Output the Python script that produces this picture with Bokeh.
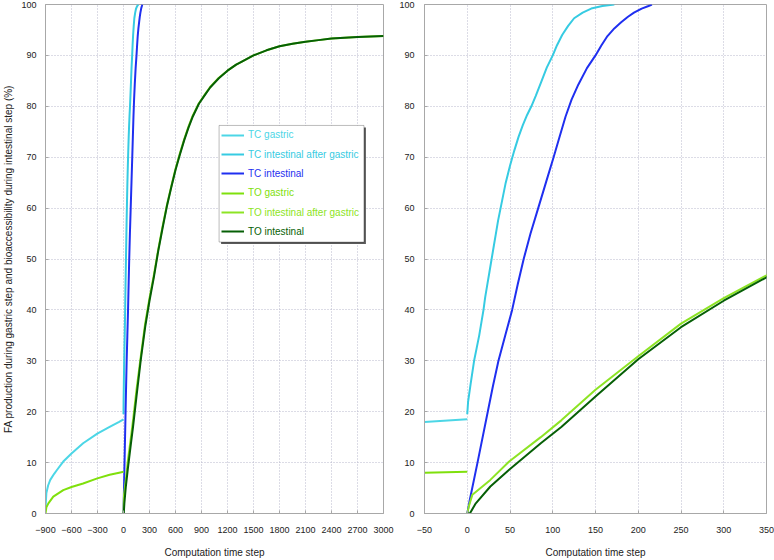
from bokeh.plotting import figure
from bokeh.models import Range1d, FixedTicker, ColumnDataSource, Legend, LegendItem, BoxAnnotation
from bokeh.layouts import row
from bokeh.embed import file_html
from bokeh.resources import INLINE

# ---------------- data ----------------
tc_gastric_x = [-900, -895, -890, -870, -845, -800, -770, -695, -600, -466, -302, -160, -50, 0]
tc_gastric_y = [0.7, 2.5, 4.0, 5.5, 6.6, 7.8, 8.5, 10.2, 11.8, 13.8, 15.7, 17.0, 18.0, 18.5]

tc_int_after_x = [0, 1, 4, 8, 11, 14, 16.5, 19, 21, 23.5, 26, 28.5, 31, 33.5, 36, 39, 42, 45, 50, 55,
                  60, 65, 70, 75, 80, 87, 93, 100, 105, 111, 118, 125, 135, 145, 158, 172]
tc_int_after_y = [19.5, 22, 25.5, 30, 32.5, 35, 37.5, 40, 42.5, 45, 47.5, 50, 52.5, 55, 57.5, 60, 62.5, 65,
                  68.3, 71.3, 74, 76.3, 78.3, 80, 82, 85, 87.6, 90, 92, 94, 95.8, 97.3, 98.4, 99.2, 99.7, 100]

tc_int_x = [0, 3, 12, 24, 30, 36.5, 44.5, 52.5, 59, 66, 74, 83, 92, 101, 108, 115, 122, 130, 140,
            150, 157, 164, 172, 180, 188, 195, 204, 212, 216]
tc_int_y = [0, 2.7, 10, 20, 25, 30, 35, 40, 45, 50, 55, 60, 65, 70, 74, 78, 81.3, 84.3, 87.5,
            90, 92, 93.8, 95.3, 96.5, 97.6, 98.4, 99.2, 99.7, 100]

to_gastric_x = [-900, -890, -867, -810, -695, -600, -466, -302, -160, -50, 0]
to_gastric_y = [0.0, 1.2, 2.0, 3.3, 4.6, 5.2, 5.9, 6.9, 7.6, 8.0, 8.2]

to_int_after_x = [0, 2, 6, 27, 49, 86, 110, 150, 200, 250, 300, 350, 400, 450, 500, 550, 600, 650,
                  700, 750, 800, 870, 950, 1000, 1100, 1200, 1300, 1366, 1500, 1650, 1800, 1950,
                  2100, 2250, 2400, 2700, 3000]
to_int_after_y = [0, 1.5, 3.7, 6.6, 10.2, 15.0, 18.3, 24.3, 30.9, 37.3, 42.3, 46.8, 51.8, 56.3, 60.5,
                  64.2, 67.7, 70.7, 73.5, 76.0, 78.2, 80.6, 82.6, 83.8, 85.6, 87.0, 88.2, 88.8, 90.0,
                  91.0, 91.8, 92.3, 92.7, 93.0, 93.3, 93.6, 93.8]

to_int_x = [0, 3, 10, 27, 49, 86, 110, 150, 200, 250, 300, 350, 400, 450, 500, 550, 600, 650,
            700, 750, 800, 870, 950, 1000, 1100, 1200, 1300, 1366, 1500, 1650, 1800, 1950,
            2100, 2250, 2400, 2700, 3000]
to_int_y = [0, 0, 2.0, 5.3, 8.6, 13.8, 17.0, 23.0, 30.3, 36.6, 41.8, 46.4, 51.5, 56.0, 60.3,
            64.0, 67.5, 70.5, 73.3, 75.8, 78.0, 80.5, 82.5, 83.7, 85.5, 87.0, 88.2, 88.8, 90.0,
            91.0, 91.8, 92.3, 92.7, 93.0, 93.3, 93.6, 93.8]

series_names = ["TC gastric", "TC intestinal after gastric", "TC intestinal",
                "TO gastric", "TO intestinal after gastric", "TO intestinal"]
series_colors = ["#4cd6e6", "#36cbe2", "#1f2ff0", "#7fe00c", "#8de424", "#065f06"]
series_data = [(tc_gastric_x, tc_gastric_y), (tc_int_after_x, tc_int_after_y), (tc_int_x, tc_int_y),
               (to_gastric_x, to_gastric_y), (to_int_after_x, to_int_after_y), (to_int_x, to_int_y)]

left_ticks = [-900, -600, -300, 0, 300, 600, 900, 1200, 1500, 1800, 2100, 2400, 2700, 3000]
right_ticks = [-50, 0, 50, 100, 150, 200, 250, 300, 350]
y_ticks = [0, 10, 20, 30, 40, 50, 60, 70, 80, 90, 100]

FONT = "Liberation Sans"
GRID = "#b8b8cc"
FRAME = "#a8a8a8"


def make_fig(width, xr, xticks, b_left, b_right, y_standoff):
    p = figure(width=width, height=560, x_range=Range1d(*xr), y_range=Range1d(0, 100),
               output_backend="svg", toolbar_location=None,
               min_border_left=b_left, min_border_right=b_right,
               min_border_top=4, min_border_bottom=47)
    p.outline_line_color = FRAME
    p.outline_line_width = 1
    p.background_fill_color = "white"
    p.border_fill_color = "white"
    p.xaxis.ticker = FixedTicker(ticks=xticks)
    p.yaxis.ticker = FixedTicker(ticks=y_ticks)
    for ax in (p.xaxis, p.yaxis):
        ax.axis_line_color = FRAME
        ax.major_tick_in = 3
        ax.major_tick_out = 0
        ax.major_tick_line_color = FRAME
        ax.minor_tick_line_color = None
        ax.major_label_text_font = FONT
        ax.major_label_text_font_size = "9px"
        ax.major_label_text_color = "#222222"
        ax.axis_label_text_font = FONT
        ax.axis_label_text_font_size = "10px"
        ax.axis_label_text_font_style = "normal"
        ax.axis_label_text_color = "#222222"
    p.xaxis.major_label_standoff = 13
    p.xaxis.axis_label = "Computation time step"
    p.xaxis.axis_label_standoff = 11
    p.yaxis.major_label_standoff = y_standoff
    for g in (p.xgrid, p.ygrid):
        g.grid_line_color = GRID
        g.grid_line_dash = "1 2"
        g.grid_line_width = 1
    renderers = []
    for (xs, ys), col in zip(series_data, series_colors):
        src = ColumnDataSource(data=dict(x=xs, y=ys))
        r = p.line("x", "y", source=src, line_color=col, line_width=2, line_join="round")
        renderers.append(r)
    return p, renderers


p1, r1 = make_fig(395, (-900, 3000), left_ticks, 42, 12, 9)
p1.yaxis.axis_label = "FA production during gastric step and bioaccessibility during intestinal step (%)"
p1.yaxis.axis_label_standoff = 4

# legend frame with shadow (data coordinates of the left panel)
shadow = BoxAnnotation(left=1126, right=2797, bottom=52.94, top=75.85,
                       fill_color="#5a5a5a", fill_alpha=1, line_alpha=0)
box = BoxAnnotation(left=1103, right=2774.5, bottom=53.33, top=76.24,
                    fill_color="white", fill_alpha=1, line_color="#222222", line_width=1)
p1.add_layout(shadow)
p1.add_layout(box)

leg_y = [372.3, 353, 333.7, 314.3, 295, 275.7]
for name, col, r, vy in zip(series_names, series_colors, r1, leg_y):
    lg = Legend(items=[LegendItem(label=name, renderers=[r])], location=(176, vy),
                border_line_alpha=0, background_fill_alpha=0, padding=0, margin=0, spacing=0,
                glyph_width=23, glyph_height=12, label_height=12, label_standoff=4,
                label_text_font=FONT, label_text_font_size="10px", label_text_color=col)
    p1.add_layout(lg)

p2, r2 = make_fig(379, (-50, 350), right_ticks, 29, 8, 10)

layout = row(p1, p2)
open("out.html", "w").write(file_html(layout, INLINE))
